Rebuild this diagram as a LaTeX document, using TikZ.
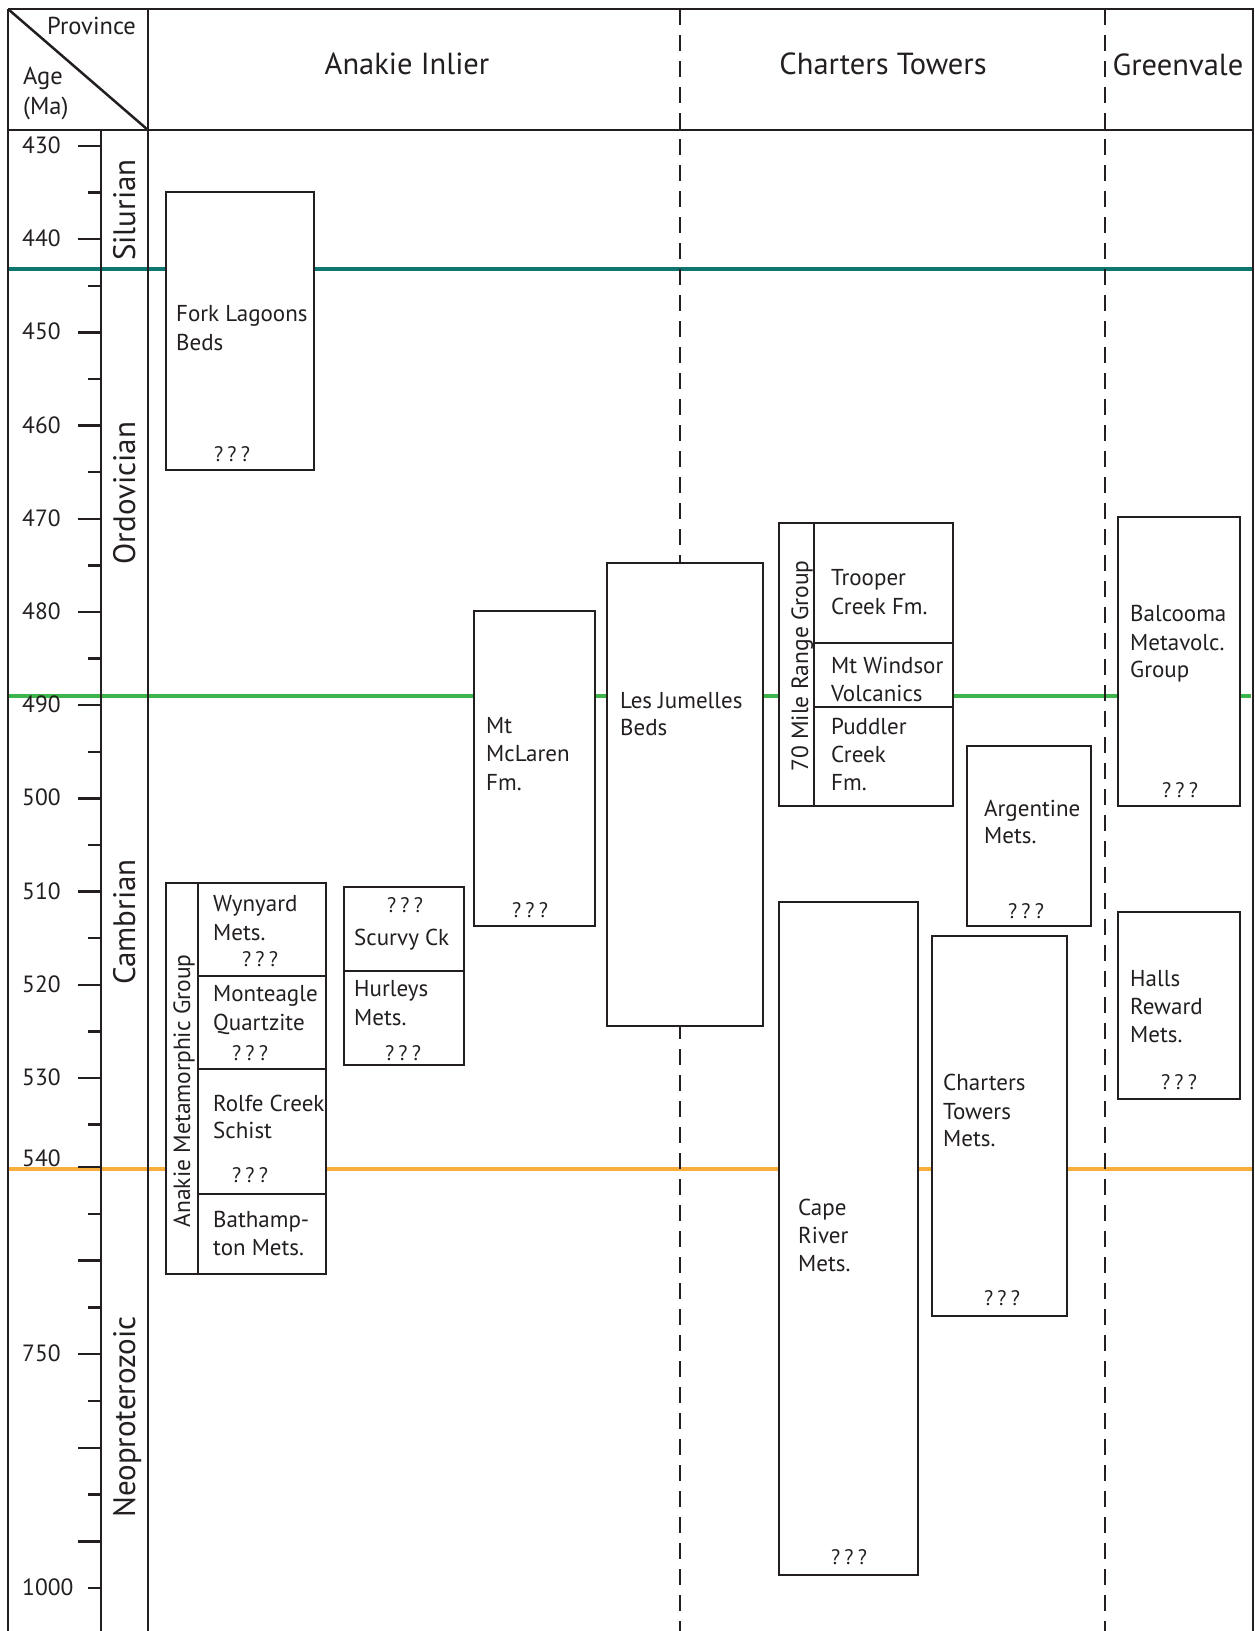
\documentclass[tikz,border=0pt]{standalone}
\usepackage{fontspec}
\setmainfont{PT Sans}
\definecolor{ink}{HTML}{231F20}
\definecolor{tealline}{HTML}{0E766F}
\definecolor{greenline}{HTML}{3DB54A}
\definecolor{orangeline}{HTML}{F9AD3D}
\newcommand\geobox[5]{\node[box,minimum width={#4pt-#2pt},minimum height={#5pt-#3pt}] (#1) at (#2,#3) {};}
\newcommand\gline[4]{\node[bodytxt] (#1) at (#2,#3) {#4};}
\newcommand\gq[3]{\node[qtxt] (#1) at (#2,#3) {?\hspace{0.2em}?\hspace{0.2em}?};}
\newcommand\tickpos[1]{\ifnum#1>22 \pgfmathsetmacro\yy{1167+(#1-22)*46.8}\else\ifnum#1=22 \def\yy{1167}\else\pgfmathsetmacro\yy{146+#1*46.6}\fi\fi}
\begin{document}
\begin{tikzpicture}[x=1pt,y=-1pt,
  frameline/.style={draw=ink,line width=2.5pt},
  tickline/.style={draw=ink,line width=2.4pt},
  box/.style={draw=ink,line width=2.4pt,fill=white,inner sep=0pt,outer sep=0pt,anchor=north west},
  bodytxt/.style={font=\fontsize{23}{28}\selectfont,text=ink,inner sep=0pt,anchor=base west},
  qtxt/.style={font=\fontsize{21}{25}\selectfont,text=ink,inner sep=0pt,anchor=base},
  headtxt/.style={font=\fontsize{30.5}{38}\selectfont,text=ink,inner sep=0pt,anchor=base},
  cornertxt/.style={font=\fontsize{24.5}{30}\selectfont,text=ink,inner sep=0pt,anchor=base west},
  periodtxt/.style={font=\fontsize{31}{38}\selectfont,text=ink,inner sep=0pt,anchor=base,rotate=90},
  grouptxt/.style={font=\fontsize{23.5}{28}\selectfont,text=ink,inner sep=0pt,anchor=base,rotate=90},
  agetxt/.style={font=\fontsize{23.5}{28}\selectfont,text=ink,inner sep=0pt,anchor=base west},
  boundary/.style={line width=4.6pt},
  provline/.style={draw=ink,line width=2.5pt,dash pattern=on 16pt off 10pt}]
\useasboundingbox (0,0) rectangle (1254,1631);
\fill[white] (0,0) rectangle (1254,1631);
% period boundaries
\draw[boundary,tealline] (8,269) -- (1253,269);
\draw[boundary,greenline] (8,696) -- (1251,696);
\draw[boundary,orangeline] (8,1169) -- (1253,1169);
% province separators
\draw[provline] (680,9) -- (680,1631);
\draw[provline] (1105,9) -- (1105,1631);
% frame
\draw[frameline] (8,9) -- (1254,9);
\draw[frameline] (8,9) -- (8,1631);
\draw[frameline] (8,130) -- (1254,130);
\draw[frameline] (148,9) -- (148,1631);
\draw[frameline] (101,130) -- (101,1631);
\draw[frameline] (8,9) -- (148,130);
\draw[draw=ink,line width=1.2pt] (1253,9) -- (1253,1631);
% ticks
\foreach \n in {0,...,31}{
  \tickpos{\n}
  \ifodd\n \draw[tickline] (88,\yy) -- (101,\yy); \else \draw[tickline] (78,\yy) -- (101,\yy); \fi
}
\foreach \n/\lab in {0/430,2/440,4/450,6/460,8/470,10/480,12/490,14/500,16/510,18/520,20/530,26/750,31/1000}{
  \tickpos{\n}
  \node[agetxt] (age\lab) at (22,\yy+7.5) {\lab};
}
\node[agetxt] (age540) at (22,1166) {540};
% header
\node[cornertxt] (hprov) at (47,34) {Province};
\node[cornertxt] (hage) at (23,84) {Age};
\node[cornertxt] (hma) at (23,114) {(Ma)};
\node[headtxt] (hanakie) at (407,74) {Anakie Inlier};
\node[headtxt] (hcharters) at (883,74) {Charters Towers};
\node[headtxt] (hgreen) at (1178,75) {Greenvale};
% periods
\node[periodtxt] (psil) at (135,210) {Silurian};
\node[periodtxt] (pord) at (135,493) {Ordovician};
\node[periodtxt] (pcam) at (135,922) {Cambrian};
\node[periodtxt] (pneo) at (135,1417) {Neoproterozoic};
% boxes
\geobox{fork}{166}{192}{314}{470}
\geobox{amgband}{166}{883}{198}{1274}
\geobox{wyn}{198}{883}{326}{976}
\geobox{mon}{198}{976}{326}{1069}
\geobox{rol}{198}{1069}{326}{1194}
\geobox{bat}{198}{1194}{326}{1274}
\geobox{scurvy}{344}{887}{464}{971}
\geobox{hurleys}{344}{971}{464}{1065}
\geobox{mclaren}{474}{611}{595}{926}
\geobox{jumelles}{607}{563}{763}{1026}
\geobox{mrgband}{779}{523}{814}{806}
\geobox{trooper}{814}{523}{953}{643}
\geobox{windsor}{814}{643}{953}{707}
\geobox{puddler}{814}{707}{953}{806}
\geobox{balcooma}{1118}{517}{1240}{806}
\geobox{argentine}{967}{746}{1091}{926}
\geobox{cape}{779}{902}{918}{1575}
\geobox{ctm}{932}{936}{1067}{1316}
\geobox{halls}{1118}{912}{1240}{1099}
% group labels
\node[grouptxt] (amglab) at (190,1091) {Anakie Metamorphic Group};
\node[grouptxt] (mrglab) at (808,666) {70 Mile Range Group};
% unit texts
\gline{fork1}{176}{321}{Fork Lagoons}
\gline{fork2}{176}{350}{Beds}
\gq{forkq}{232}{461}
\gline{wyn1}{213}{911}{Wynyard}
\gline{wyn2}{213}{940}{Mets.}
\gq{wynq}{260}{966}
\gline{mon1}{213}{1001}{Monteagle}
\gline{mon2}{213}{1030}{Quartzite}
\gq{monq}{250}{1060}
\gline{rol1}{213}{1111}{Rolfe Creek}
\gline{rol2}{213}{1138}{Schist}
\gq{rolq}{250}{1182}
\gline{bat1}{213}{1227}{Bathamp-}
\gline{bat2}{213}{1255}{ton Mets.}
\gq{scurvyq}{405}{912}
\gline{scurvy1}{354}{945}{Scurvy Ck}
\gline{hur1}{354}{996}{Hurleys}
\gline{hur2}{354}{1025}{Mets.}
\gq{hurq}{403}{1060}
\gline{mcl1}{486}{733}{Mt}
\gline{mcl2}{486}{761}{McLaren}
\gline{mcl3}{486}{790}{Fm.}
\gq{mclq}{530}{917}
\gline{jum1}{620}{708}{Les Jumelles}
\gline{jum2}{620}{735}{Beds}
\gline{tro1}{831}{585}{Trooper}
\gline{tro2}{831}{614}{Creek Fm.}
\gline{win1}{831}{673}{Mt Windsor}
\gline{win2}{831}{701}{Volcanics}
\gline{pud1}{831}{734}{Puddler}
\gline{pud2}{831}{762}{Creek}
\gline{pud3}{831}{790}{Fm.}
\gline{bal1}{1130}{621}{Balcooma}
\gline{bal2}{1130}{650}{Metavolc.}
\gline{bal3}{1130}{677}{Group}
\gq{balq}{1180}{797}
\gline{arg1}{984}{816}{Argentine}
\gline{arg2}{984}{843}{Mets.}
\gq{argq}{1026}{918}
\gline{cap1}{798}{1215}{Cape}
\gline{cap2}{798}{1243}{River}
\gline{cap3}{798}{1271}{Mets.}
\gq{capq}{849}{1564}
\gline{ctm1}{943}{1090}{Charters}
\gline{ctm2}{943}{1119}{Towers}
\gline{ctm3}{943}{1146}{Mets.}
\gq{ctmq}{1002}{1305}
\gline{hal1}{1130}{986}{Halls}
\gline{hal2}{1130}{1014}{Reward}
\gline{hal3}{1130}{1042}{Mets.}
\gq{halq}{1179}{1089}
\end{tikzpicture}
\end{document}
